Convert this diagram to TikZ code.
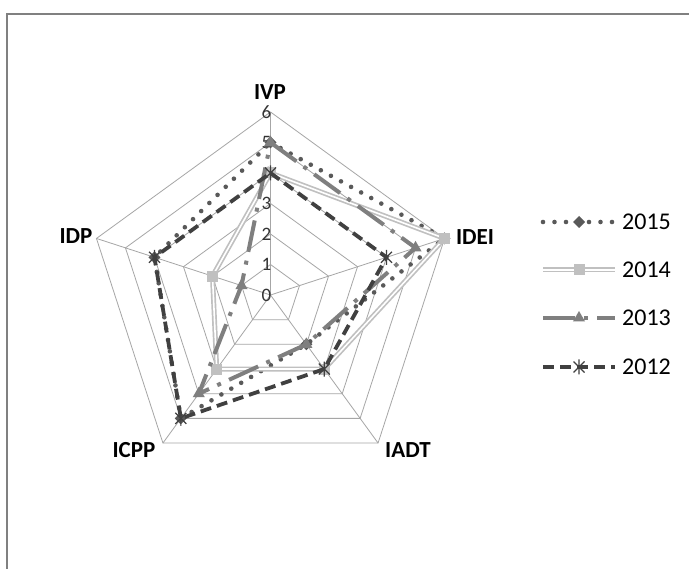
\documentclass[tikz,border=0pt]{standalone}
\usepackage{fontspec}
\setmainfont{Carlito}
\usetikzlibrary{calc}
\definecolor{gridc}{HTML}{A6A6A6}
\definecolor{framec}{HTML}{808080}
\definecolor{c15}{HTML}{595959}
\definecolor{c14}{HTML}{C0C0C0}
\definecolor{c13}{HTML}{7F7F7F}
\definecolor{c12}{HTML}{404040}
\definecolor{tickc}{HTML}{333333}
\tikzset{
  gridline/.style={gridc, line width=0.8pt},
  axlabel/.style={font=\bfseries\fontsize{23}{25}\selectfont, text=black, inner sep=0pt},
  ticklabel/.style={font=\fontsize{19}{20}\selectfont, text=tickc, anchor=east, inner sep=0pt},
  legtext/.style={font=\fontsize{24}{26}\selectfont, text=black, anchor=west, inner sep=0pt},
  s15/.style={c15, line width=4.6pt, dash pattern=on 0pt off 11.5pt, line cap=round},
  s14/.style={c14, line width=1.7pt, double=white, double distance=1.6pt},
  s13/.style={c13, line width=4pt, dash pattern=on 32pt off 9pt on 4pt off 9pt},
  s12/.style={c12, line width=3.8pt, dash pattern=on 11pt off 6pt},
  mk15/.pic={\fill[c15] (0,6)--(6,0)--(0,-6)--(-6,0)--cycle;},
  mk14/.pic={\fill[c14] (-5.5,-5.5) rectangle (5.5,5.5);},
  mk13/.pic={\fill[c13] (90:7)--(210:7)--(330:7)--cycle;},
  mk12/.pic={\draw[c12,line width=1.2pt] (-5.5,-5.5)--(5.5,5.5) (-5.5,5.5)--(5.5,-5.5) (0,-7.5)--(0,7.5);},
}
\begin{document}
\begin{tikzpicture}[x=1pt,y=1pt]
\useasboundingbox (0,0) rectangle (689,-569);
\fill[white] (0,0) rectangle (689,-569);
\draw[framec, line width=1.8pt] (7,-569) -- (7,-14) -- (689,-14);

\begin{scope}[shift={(270.5,-295)}]
  \coordinate (O) at (0,0);
  \foreach \v in {1,...,6}
    \draw[gridline] ({90}:{\v*30.5}) -- ({18}:{\v*30.5}) -- ({-54}:{\v*30.5})
      -- ({-126}:{\v*30.5}) -- ({162}:{\v*30.5}) -- cycle;
  \foreach \a/\n in {90/vp,18/dei,-54/adt,-126/cpp,162/dp} {
    \coordinate (ax\n) at ({\a}:183);
    \draw[gridline] (O) -- (ax\n);
  }
  \foreach \v in {0,...,6}
    \node[ticklabel] (t\v) at (1,{\v*30.5}) {\v};

  \foreach \yr/\a/\b/\c/\d/\e in {15/5/6/2/5/4, 14/4/6/3/3/2, 13/5/5/2/4/1, 12/4/4/3/5/4} {
    \coordinate (d\yr a) at ({90}:{\a*30.5});
    \coordinate (d\yr b) at ({18}:{\b*30.5});
    \coordinate (d\yr c) at ({-54}:{\c*30.5});
    \coordinate (d\yr d) at ({-126}:{\d*30.5});
    \coordinate (d\yr e) at ({162}:{\e*30.5});
  }
  \draw[s15] (d15a) -- (d15b) -- (d15c) -- (d15d) -- (d15e) -- cycle;
  \foreach \p in {a,b,c,d,e} \pic at (d15\p) {mk15};
  \draw[s14] (d14a) -- (d14b) -- (d14c) -- (d14d) -- (d14e) -- cycle;
  \foreach \p in {a,b,c,d,e} \pic at (d14\p) {mk14};
  \draw[s13] (d13a) -- (d13b) -- (d13c) -- (d13d) -- (d13e) -- cycle;
  \foreach \p in {a,b,c,d,e} \pic at (d13\p) {mk13};
  \draw[s12] (d12a) -- (d12b) -- (d12c) -- (d12d) -- (d12e) -- cycle;
  \foreach \p in {a,b,c,d,e} \pic at (d12\p) {mk12};
\end{scope}

% axis labels
\node[axlabel] (lvp)  at (270,-92)  {IVP};
\node[axlabel] (ldei) at (475,-237) {IDEI};
\node[axlabel] (ldp)  at (76,-236)  {IDP};
\node[axlabel] (lcpp) at (134,-450) {ICPP};
\node[axlabel] (ladt) at (408,-450) {IADT};

% legend
\foreach \yr/\yy/\lab in {15/222/2015, 14/270/2014, 13/318/2013, 12/367/2012} {
  \coordinate (g\yr l) at (543,-\yy);
  \coordinate (g\yr r) at (615,-\yy);
  \coordinate (g\yr m) at (579,-\yy);
  \node[legtext] (gt\yr) at (622,-\yy) {\lab};
}
\draw[s15] (g15l) -- (g15r); \pic at (g15m) {mk15};
\draw[s14] (g14l) -- (g14r); \pic at (g14m) {mk14};
\draw[s13] (g13l) -- (g13r); \pic at (g13m) {mk13};
\draw[s12] (g12l) -- (g12r); \pic at (g12m) {mk12};
\end{tikzpicture}
\end{document}
